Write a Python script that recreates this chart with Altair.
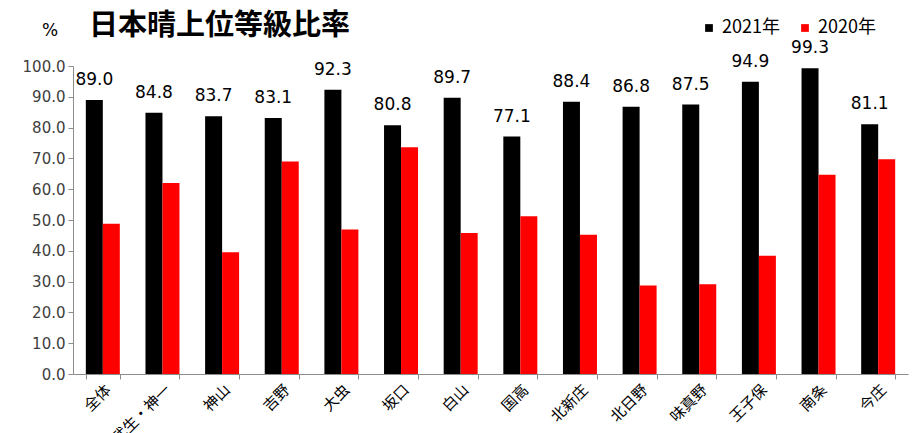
import altair as alt
import pandas as pd

categories = ["全体", "武生・神一", "神山", "吉野", "大虫", "坂口", "白山",
              "国高", "北新庄", "北日野", "味真野", "王子保", "南条", "今庄"]
values_2021 = [89.0, 84.8, 83.7, 83.1, 92.3, 80.8, 89.7, 77.1, 88.4, 86.8, 87.5, 94.9, 99.3, 81.1]
values_2020 = [48.8, 62.0, 39.5, 69.0, 46.9, 73.6, 45.8, 51.2, 45.2, 28.7, 29.1, 38.4, 64.7, 69.7]
series_names = ["2021年", "2020年"]
series_colors = ["#000000", "#ff0000"]
y_ticks = [0, 10, 20, 30, 40, 50, 60, 70, 80, 90, 100]
chart_title = "日本晴上位等級比率"
unit_label = "%"

rows = []
for c, a, b in zip(categories, values_2021, values_2020):
    rows.append({"地区": c, "系列": series_names[0], "値": a})
    rows.append({"地区": c, "系列": series_names[1], "値": b})
df = pd.DataFrame(rows)

x_enc = alt.X(
    "地区:N", sort=categories,
    scale=alt.Scale(paddingInner=0.43, paddingOuter=0.215),
    axis=alt.Axis(title=None, labelAngle=-45, labelFont="Noto Sans CJK JP",
                  labelFontSize=15, labelColor="#000000", tickBand="extent",
                  domainColor="#8c8c8c", tickColor="#8c8c8c", tickSize=5,
                  labelPadding=3, labelOverlap=False),
)
xoff_enc = alt.XOffset("系列:N", sort=series_names,
                       scale=alt.Scale(domain=series_names))
y_enc = alt.Y(
    "値:Q", scale=alt.Scale(domain=[0, 100], nice=False),
    axis=alt.Axis(title=None, values=y_ticks, tickCount=11, format=".1f", grid=False,
                  labelFont="DejaVu Sans", labelFontSize=15, labelColor="#404040",
                  domainColor="#8c8c8c", tickColor="#8c8c8c", tickSize=5,
                  labelPadding=3, labelOverlap=False),
)

base = alt.Chart(df)

bars = base.mark_bar().encode(
    x=x_enc, xOffset=xoff_enc, y=y_enc,
    color=alt.Color(
        "系列:N", sort=series_names,
        scale=alt.Scale(domain=series_names, range=series_colors),
        legend=alt.Legend(orient="none", legendX=627, legendY=-47,
                          direction="horizontal", title=None, symbolType="square",
                          symbolSize=60, symbolStrokeWidth=0, labelFontSize=18,
                          labelFont="Noto Sans CJK JP", labelColor="#000000",
                          columnPadding=16, labelOffset=4),
    ),
)

labels = base.transform_filter(alt.datum["系列"] == series_names[0]).mark_text(
    baseline="bottom", dy=-11, fontSize=17, font="DejaVu Sans", color="#000000"
).encode(
    x=x_enc, xOffset=xoff_enc, y=y_enc,
    text=alt.Text("値:Q", format=".1f"),
)

title_df = pd.DataFrame({"t": [chart_title]})
title = alt.Chart(title_df).mark_text(
    align="left", baseline="middle", fontSize=29, fontWeight="bold",
    font="Noto Sans CJK JP", color="#000000"
).encode(x=alt.value(16), y=alt.value(-40), text="t:N")

unit_df = pd.DataFrame({"t": [unit_label]})
unit = alt.Chart(unit_df).mark_text(
    align="center", baseline="middle", fontSize=17, font="DejaVu Sans", color="#000000"
).encode(x=alt.value(-23), y=alt.value(-35), text="t:N")

chart = alt.layer(bars, labels, title, unit).properties(
    width=835, height=308,
    autosize=alt.AutoSizeParams(type="none"),
    padding={"left": 73, "top": 66, "right": 9, "bottom": 59},
    background="white",
).configure_view(stroke=None)

chart.save("out.html", embed_options={"renderer": "svg", "actions": False})
